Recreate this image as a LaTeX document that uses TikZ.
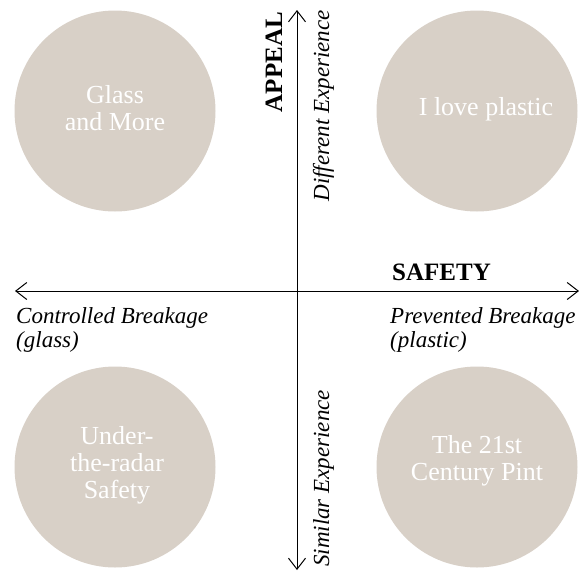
\documentclass[tikz,border=0pt]{standalone}
\usepackage{fontspec}
\setmainfont{Liberation Serif}
\usetikzlibrary{arrows.meta}
\definecolor{disccol}{RGB}{216,208,199}
\begin{document}
\begin{tikzpicture}[x=1pt,y=1pt,
  disc/.style={circle,fill=disccol,minimum size=201pt,inner sep=0pt},
  intext/.style={text=white,font=\fontsize{26}{27}\selectfont,align=center,inner sep=0pt,anchor=base},
  barb/.tip={Straight Barb[length=11pt,width=17pt,line width=1pt]},
  axisline/.style={line width=1pt,barb-barb},
  axislabel/.style={font=\fontsize{23}{24}\selectfont\itshape,align=left,inner sep=0pt,anchor=base west},
  axistitle/.style={font=\fontsize{25}{26}\selectfont\bfseries,inner sep=0pt}]
\useasboundingbox (0,0) rectangle (579,-571);
% circles
\node[disc] (gm) at (115,-111) {};
\node[disc] (ilp) at (477,-111) {};
\node[disc] (utr) at (115,-467) {};
\node[disc] (cp) at (477,-467) {};
% circle texts (base = baseline of last line)
\node[intext] (gmt) at (115,-130) {Glass\\and More};
\node[intext] (ilpt) at (486,-115) {I love plastic};
\node[intext] (utrt) at (117,-498) {Under-\\the-radar\\Safety};
\node[intext] (cpt) at (477,-480) {The 21st\\Century Pint};
% axes
\coordinate (L) at (15,-291);
\coordinate (R) at (579,-291);
\coordinate (T) at (297,-10);
\coordinate (B) at (297,-570);
\draw[axisline] (L) -- (R);
\draw[axisline] (B) -- (T);
% axis labels
\node[axislabel] (cb) at (16,-347) {Controlled Breakage\\(glass)};
\node[axislabel] (pb) at (390,-347) {Prevented Breakage\\(plastic)};
\node[axistitle,anchor=base west] (safety) at (392,-280) {SAFETY};
\node[axistitle,rotate=90,anchor=base east] (appeal) at (282,-12) {APPEAL};
\node[axislabel,rotate=90,anchor=base east] (diff) at (329,-10) {Different Experience};
\node[axislabel,rotate=90,anchor=base west] (sim) at (329,-567) {Similar Experience};
\end{tikzpicture}
\end{document}
